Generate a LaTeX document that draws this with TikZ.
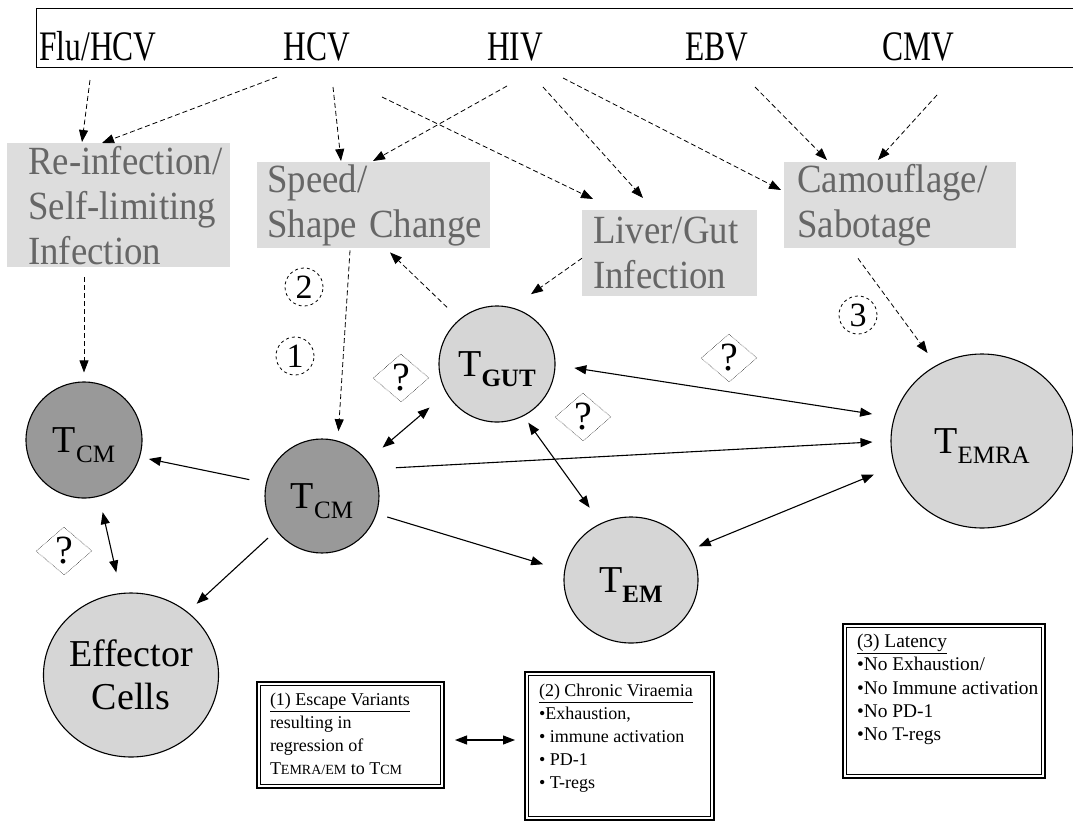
\documentclass[tikz,border=0pt]{standalone}
\usepackage{fontspec}
\usepackage{graphicx}
\setmainfont{Liberation Serif}
\usetikzlibrary{arrows.meta,shapes.geometric,calc}
\definecolor{darkc}{HTML}{999999}
\definecolor{lightc}{HTML}{D6D6D6}
\definecolor{boxg}{HTML}{DDDDDD}
\definecolor{txtg}{HTML}{666666}
\newcommand{\Tlab}[1]{\raisebox{-4.5pt}[25pt][10pt]{{\fontsize{38}{38}\selectfont T}\raisebox{-10pt}{\fontsize{25}{25}\selectfont #1}}}
\newcommand{\smc}[1]{{\fontsize{14}{14}\selectfont #1}}
\newcommand{\gl}[1]{\scalebox{0.92}[1]{#1}}
\begin{document}
\begin{tikzpicture}[x=1pt,y=-1pt,
  toplabel/.style={anchor=base, inner sep=0pt, font=\fontsize{42}{44}\selectfont},
  greybox/.style={anchor=north west, fill=boxg, text=txtg, align=left, inner ysep=0pt, font=\fontsize{40}{45}\selectfont},
  cell/.style={circle, draw, line width=1.1pt, inner sep=0pt},
  darkcell/.style={cell, fill=darkc},
  lightcell/.style={cell, fill=lightc},
  qbox/.style={diamond, draw, densely dotted, line width=0.5pt, minimum width=56pt, minimum height=48pt, inner sep=0pt, font=\fontsize{40}{40}\selectfont},
  numc/.style={circle, draw, dashed, line width=0.8pt, minimum size=38pt, inner sep=0pt, font=\fontsize{34}{34}\selectfont},
  infobox/.style={anchor=north west, draw, line width=2pt, inner sep=0pt, font=\fontsize{18}{23}\selectfont},
  innerline/.style={line width=0.8pt},
  arr/.style={-{Triangle[length=12pt,width=9pt]}, line width=1.1pt},
  darr/.style={{Triangle[length=12pt,width=9pt]}-{Triangle[length=12pt,width=9pt]}, line width=1.1pt},
  dasharrow/.style={-{Triangle[length=12pt,width=9pt]}, line width=0.8pt, dash pattern=on 5pt off 3pt},
]
\useasboundingbox[fill=white] (0,0) rectangle (1073,822);

% top bar with virus names
\node[draw, line width=1pt, anchor=north west, minimum width=1050pt, minimum height=59pt, inner sep=0pt] (topbar) at (36,8) {};
\node[toplabel] (flu) at (98,60) {\scalebox{0.75}[1]{Flu/HCV}};
\node[toplabel] (hcv) at (317,60) {\scalebox{0.75}[1]{HCV}};
\node[toplabel] (hiv) at (515,60) {\scalebox{0.75}[1]{HIV}};
\node[toplabel] (ebv) at (717,60) {\scalebox{0.75}[1]{EBV}};
\node[toplabel] (cmv) at (918,60) {\scalebox{0.75}[1]{CMV}};

% grey mechanism boxes
\node[greybox, minimum width=223pt, minimum height=124pt, inner xsep=21pt, text width=181pt] (reinf) at (7,143)
  {\gl{Re-infection/}\\\gl{Self-limiting}\\\gl{Infection}};
\node[greybox, minimum width=233pt, minimum height=86pt, inner xsep=10pt, text width=213pt] (speed) at (257,162)
  {\gl{Speed/}\\\gl{Shape Change}};
\node[greybox, minimum width=175pt, minimum height=86pt, inner xsep=11pt, text width=153pt] (liver) at (582,210)
  {\gl{Liver/Gut}\\\gl{Infection}};
\node[greybox, minimum width=232pt, minimum height=86pt, inner xsep=13pt, text width=206pt] (camo) at (784,162)
  {\gl{Camouflage/}\\\gl{Sabotage}};

% cells
\node[darkcell, minimum size=116pt] (tcmL) at (84,440) {\Tlab{CM}};
\node[darkcell, minimum size=114pt] (tcmC) at (322,496) {\Tlab{CM}};
\node[lightcell, minimum size=116pt] (tgut) at (497,364) {\Tlab{\bfseries GUT}};
\node[lightcell, ellipse, minimum width=134pt, minimum height=126pt] (tem) at (631,580) {\Tlab{\bfseries EM}};
\node[lightcell, ellipse, minimum width=182pt, minimum height=174pt] (temra) at (982,441) {\Tlab{EMRA}};
\node[lightcell, ellipse, minimum width=173pt, minimum height=164pt, align=center, font=\fontsize{38}{43}\selectfont] (eff) at (131,675) {Effector\\Cells};

% question marks and numbers
\node[qbox] (q1) at (401,378) {?};
\node[qbox] (q2) at (583,417) {?};
\node[qbox] (q3) at (729,358) {?};
\node[qbox] (q4) at (64,551) {?};
\node[numc] (n1) at (295,356) {1};
\node[numc] (n2) at (304,287) {2};
\node[numc] (n3) at (858,315) {3};

% info boxes (double frame: thick outer, thin inner)
\node[infobox] (box1) at (256,681) {\parbox[c][106pt][t]{187pt}{\leftskip=13pt\vspace*{11pt}%
  \underline{(1) Escape Variants}\\ resulting in\\ regression of\\ T\smc{EMRA/EM} to T\smc{CM}}};
\node[infobox] (box2) at (524,671) {\parbox[c][148pt][t]{189pt}{\leftskip=14pt\vspace*{12pt}%
  \underline{(2) Chronic Viraemia}\\ •Exhaustion,\\ • immune activation\\ • PD-1\\ • T-regs}};
\node[infobox, font=\fontsize{19.4}{23.3}\selectfont] (box3) at (842,623) {\parbox[c][154pt][t]{202pt}{\leftskip=14pt\vspace*{10pt}%
  \underline{(3) Latency}\\ •No Exhaustion/\\ •No Immune activation\\ •No PD-1\\ •No T-regs}};
\draw[innerline] ([xshift=4.5pt,yshift=-4.5pt]box1.north west) rectangle ([xshift=-4.5pt,yshift=4.5pt]box1.south east);
\draw[innerline] ([xshift=4.5pt,yshift=-4.5pt]box2.north west) rectangle ([xshift=-4.5pt,yshift=4.5pt]box2.south east);
\draw[innerline] ([xshift=4.5pt,yshift=-4.5pt]box3.north west) rectangle ([xshift=-4.5pt,yshift=4.5pt]box3.south east);

% dashed arrows from viruses to mechanisms
\draw[dasharrow] ([xshift=-8pt,yshift=-20pt]flu.base) -- ([xshift=75pt,yshift=1pt]reinf.north west);
\draw[dasharrow] ([xshift=-40pt,yshift=-17pt]hcv.base) -- ([xshift=95pt]reinf.north west);
\draw[dasharrow] ([xshift=16pt,yshift=-27pt]hcv.base) -- ([xshift=84pt,yshift=1pt]speed.north west);
\draw[dasharrow] ([xshift=-8pt,yshift=-26pt]hiv.base) -- ([xshift=116pt,yshift=1pt]speed.north west);
\draw[dasharrow] ([xshift=65pt,yshift=-37pt]hcv.base) -- ([xshift=11pt,yshift=11pt]liver.north west);
\draw[dasharrow] ([xshift=28pt,yshift=-27pt]hiv.base) -- ([xshift=61pt,yshift=12pt]liver.north west);
\draw[dasharrow] ([xshift=48pt,yshift=-18pt]hiv.base) -- ([xshift=-3pt,yshift=-28pt]camo.north west);
\draw[dasharrow] ([xshift=38pt,yshift=-27pt]ebv.base) -- ([xshift=43pt,yshift=2pt]camo.north west);
\draw[dasharrow] ([xshift=19pt,yshift=-35pt]cmv.base) -- ([xshift=94pt,yshift=2pt]camo.north west);

% dashed arrows from mechanisms to cells
\draw[dasharrow] ([xshift=77pt,yshift=-10pt]reinf.south west) -- ([yshift=9pt]tcmL.north);
\draw[dasharrow, shorten >=9.5pt] ([xshift=93pt,yshift=-2pt]speed.south west) -- (tcmC.74);
\draw[dasharrow, shorten <=17pt] (tgut.130) -- ([xshift=133pt,yshift=-4pt]speed.south west);
\draw[dasharrow, shorten >=23pt] ([yshift=-5pt]liver.west) -- (tgut.75);
\draw[dasharrow, shorten >=15pt] ([xshift=74pt,yshift=-10pt]camo.south west) -- (temra.121.5);

% solid arrows between cells
\draw[arr, shorten <=17pt, shorten >=9pt] (tcmC.167) -- (tcmL.-17);
\draw[arr, shorten <=11pt, shorten >=12pt] (tcmC.217) -- (eff.48);
\draw[arr, shorten <=11pt, shorten >=22pt] (tcmC.-18) -- (tem.172);
\draw[arr, shorten <=23pt, shorten >=18pt] (tcmC.28) -- (temra.180);
\draw[darr, shorten <=20pt, shorten >=22pt] (tcmC.38) -- (tgut.210);
\draw[darr, shorten <=19pt, shorten >=22pt] (tgut.-1) -- (temra.165);
\draw[darr, shorten <=8pt, shorten >=19pt] (tgut.-63) -- (tem.118);
\draw[darr, shorten <=9pt, shorten >=22pt] (tem.27) -- (temra.196);
\draw[darr, shorten <=16pt, shorten >=21pt] (tcmL.-75) -- (eff.97.8);

% arrow between info boxes
\coordinate (m1) at ([yshift=-5pt]box1.east);
\draw[darr, shorten <=10pt, shorten >=9pt] (m1) -- (m1 -| box2.west);
\end{tikzpicture}
\end{document}
